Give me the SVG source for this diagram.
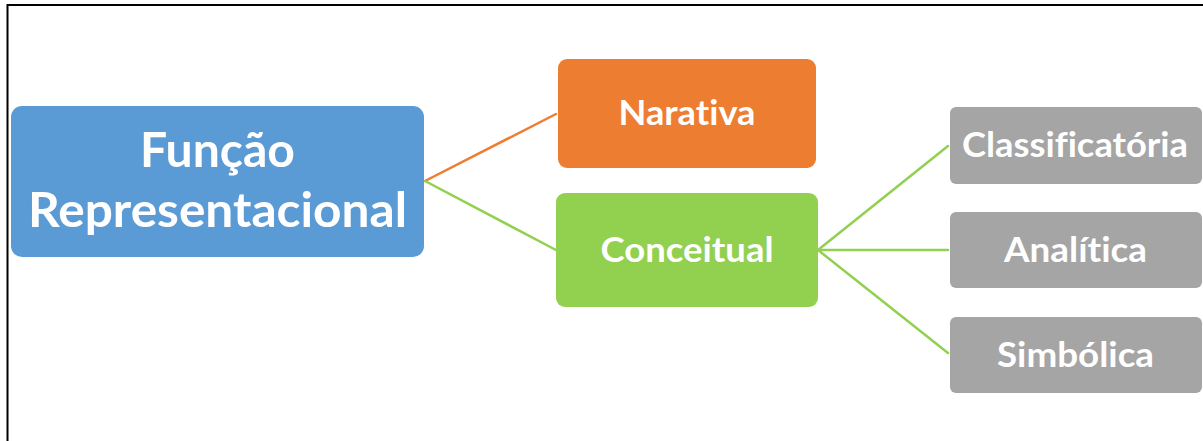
<svg xmlns="http://www.w3.org/2000/svg" width="1203" height="441" viewBox="0 0 1203 441">
  <style>
    .box { stroke: none; }
    .lbl { font-family: Lato, "Open Sans", "Liberation Sans", sans-serif; font-weight: bold; fill: #ffffff; text-anchor: middle; font-variant-ligatures: none; font-feature-settings: "liga" 0, "clig" 0; }
    .edge { fill: none; stroke-width: 2.5; stroke-linecap: round; }
    .frame { fill: none; stroke: #000000; stroke-width: 2; }
  </style>

  <rect x="0" y="0" width="1203" height="441" fill="#ffffff"/>
  <!-- figure frame -->
  <path class="frame" d="M7.5,441 V5 H1203"/>

  <!-- connectors -->
  <g id="connectors">
    <line class="edge" stroke="#ED7D31" x1="425" y1="181" x2="556" y2="114"/>
    <line class="edge" stroke="#92D050" x1="425" y1="181" x2="556" y2="250"/>
    <line class="edge" stroke="#92D050" x1="818" y1="250" x2="948" y2="146"/>
    <line class="edge" stroke="#92D050" x1="818" y1="250" x2="948" y2="250"/>
    <line class="edge" stroke="#92D050" x1="818" y1="250" x2="948" y2="353"/>
  </g>

  <g id="funcao">
    <rect class="box" x="11" y="106" width="413" height="151" rx="11" fill="#5B9BD5"/>
    <text class="lbl" x="217.5" y="167" font-size="48" textLength="155" lengthAdjust="spacingAndGlyphs">Função</text>
    <text class="lbl" x="217.5" y="227" font-size="48" textLength="379" lengthAdjust="spacingAndGlyphs">Representacional</text>
  </g>

  <g id="narativa">
    <rect class="box" x="558" y="59" width="258" height="109" rx="9" fill="#ED7D31"/>
    <text class="lbl" x="687" y="125" font-size="35" textLength="137" lengthAdjust="spacingAndGlyphs">Narativa</text>
  </g>

  <g id="conceitual">
    <rect class="box" x="556" y="193" width="262" height="114" rx="9" fill="#92D050"/>
    <text class="lbl" x="687" y="262" font-size="35" textLength="173" lengthAdjust="spacingAndGlyphs">Conceitual</text>
  </g>

  <g id="classificatoria">
    <rect class="box" x="950" y="107" width="252" height="77" rx="6" fill="#A5A5A5"/>
    <text class="lbl" x="1075" y="157" font-size="35" textLength="226" lengthAdjust="spacingAndGlyphs">Classificatória</text>
  </g>

  <g id="analitica">
    <rect class="box" x="950" y="212" width="252" height="76" rx="6" fill="#A5A5A5"/>
    <text class="lbl" x="1075.5" y="262" font-size="35" textLength="143" lengthAdjust="spacingAndGlyphs">Analítica</text>
  </g>

  <g id="simbolica">
    <rect class="box" x="950" y="317" width="252" height="76" rx="6" fill="#A5A5A5"/>
    <text class="lbl" x="1075.5" y="367" font-size="35" textLength="157" lengthAdjust="spacingAndGlyphs">Simbólica</text>
  </g>
</svg>
